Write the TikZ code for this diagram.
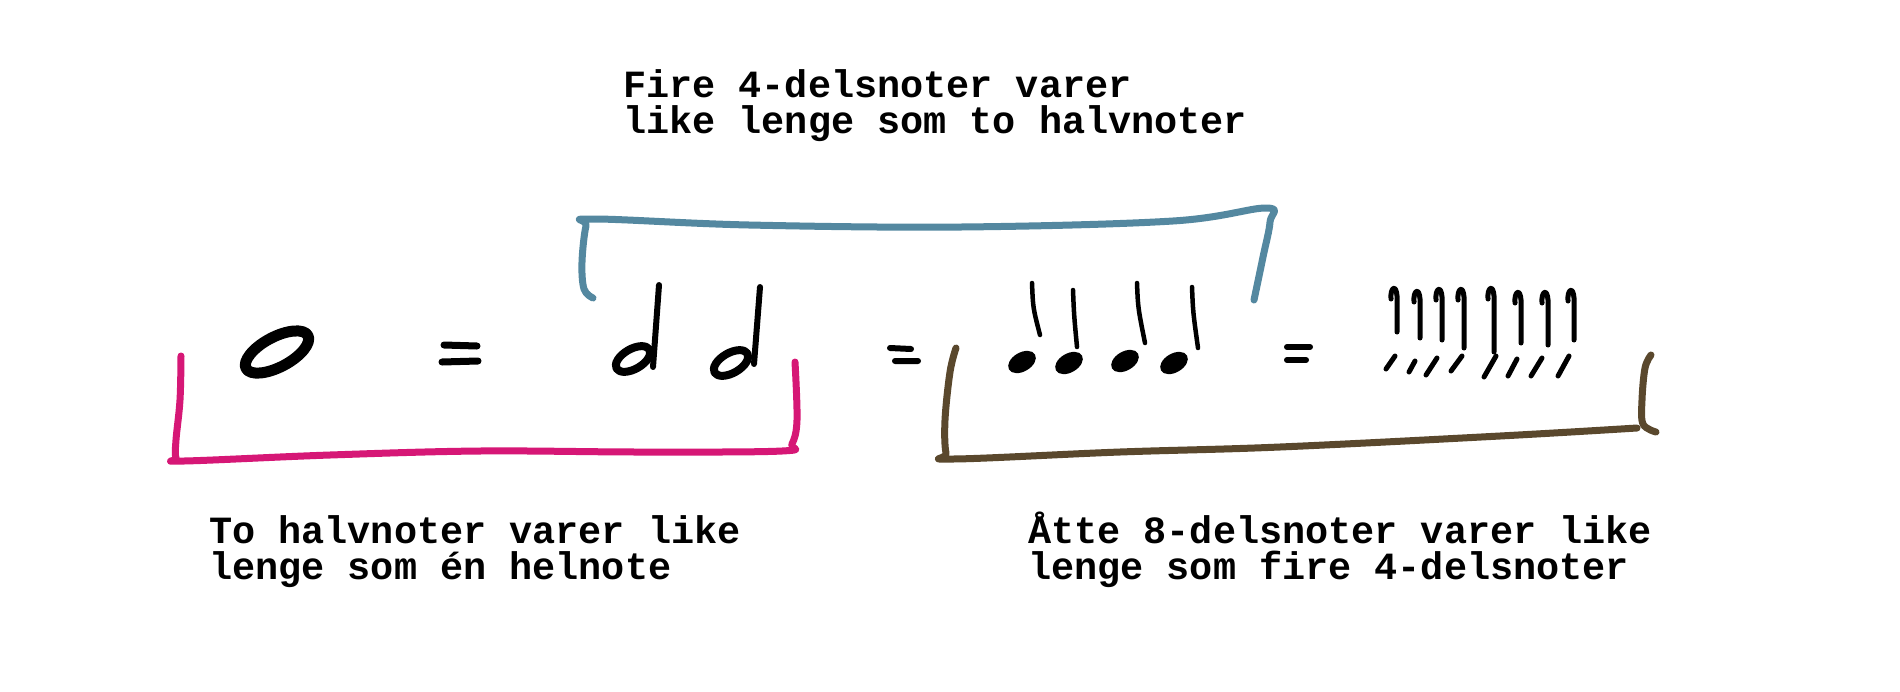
\documentclass[tikz,border=0pt]{standalone}
\usepackage{fontspec}
\newfontfamily\cour{Liberation Mono}
\definecolor{pinkbr}{HTML}{D61776}
\definecolor{bluebr}{HTML}{5488A0}
\definecolor{brownbr}{HTML}{5A482D}
\begin{document}
\begin{tikzpicture}[x=1pt,y=-1pt,line cap=round,line join=round,
  lbl/.style={font=\cour\bfseries\fontsize{38.5}{36}\selectfont,anchor=base west,inner sep=0pt,align=left},
  bracket/.style={line width=7pt},
  headring/.style={line width=8pt},
  stemline/.style={line width=6pt},
  eqline/.style={line width=7pt},
  thinstem/.style={line width=4.5pt},
  eighthhead/.style={line width=5pt}]
\useasboundingbox[fill=white] (0,0) rectangle (1900,691);

% texts (anchored at the baseline of the last line)
\node[lbl] (top) at (623,133) {Fire 4-delsnoter varer\\like lenge som to halvnoter};
\node[lbl] (botleft) at (209,579) {To halvnoter varer like\\lenge som én helnote};
\node[lbl] (botright) at (1028,579) {Åtte 8-delsnoter varer like\\lenge som fire 4-delsnoter};

% brackets
\draw[bracket,pinkbr] plot[smooth,tension=0.6] coordinates {(181,356) (180,400) (176,440) (176,458) (184,461) (330,455) (480,451) (640,452) (782,451) (792,444) (797,420) (795,362)};
\draw[bracket,bluebr] plot[smooth,tension=0.6] coordinates {(593,298) (584,289) (582,262) (586,226) (593,219) (749,225) (961,227) (1173,221) (1266,208) (1270,222) (1263,257) (1254,300)};
\draw[bracket,brownbr] plot[smooth,tension=0.6] coordinates {(956,348) (950,372) (945,420) (946,453) (953,459) (1120,452) (1280,447) (1500,436) (1637,428)};
\draw[bracket,brownbr] plot[smooth,tension=0.6] coordinates {(1651,355) (1645,368) (1642,400) (1643,424) (1656,432)};

% whole note
\draw[line width=11pt] (277,352) ellipse [x radius=35, y radius=15, rotate=28];

% equals signs
\draw[eqline] (444,345) -- (477,346) (442,362) -- (478,361);
\draw[line width=6pt] (890,348) -- (911,349) (895,361) -- (918,361);
\draw[line width=6pt] (1287,347) -- (1310,347) (1287,360) -- (1306,360);

% half notes
\draw[headring] (633,359) ellipse [x radius=19, y radius=10, rotate=30];
\draw[stemline] (659,285) -- (653,367);
\draw[headring] (731,363) ellipse [x radius=19, y radius=10, rotate=30];
\draw[stemline] (760,287) -- (754,364);

% quarter notes
\foreach \cx/\cy/\sx/\st/\ex/\eb in {1022/362/1032/283/1040/335, 1069/363/1073/290/1077/347, 1125/361/1137/283/1145/343, 1174/363/1192/287/1198/348}{
  \fill (\cx,\cy) ellipse [x radius=15, y radius=9.5, rotate=30];
  \draw[thinstem] (\sx,\st) .. controls (\sx+1,\st+25) .. (\ex,\eb);
}

% eighth notes: stems
\foreach \x/\t/\b in {1396/286/332, 1419/289/338, 1441/287/340, 1463/287/348, 1493/286/352, 1520/290/343, 1547/290/345, 1573/288/340}{
  \draw[line width=5pt] (\x-5,\t+13) .. controls (\x-6,\t+2) and (\x,\t-3) .. (\x+1,\t+10) -- (\x+1,\b);
}
% eighth notes: heads
\foreach \a/\b/\c/\d in {1386/369/1395/356, 1409/372/1415/361, 1426/375/1437/358, 1451/371/1462/356, 1484/377/1496/356, 1508/376/1517/359, 1531/376/1542/358, 1558/376/1569/356}{
  \draw[eighthhead] (\a,\b) -- (\c,\d);
}
\end{tikzpicture}
\end{document}
